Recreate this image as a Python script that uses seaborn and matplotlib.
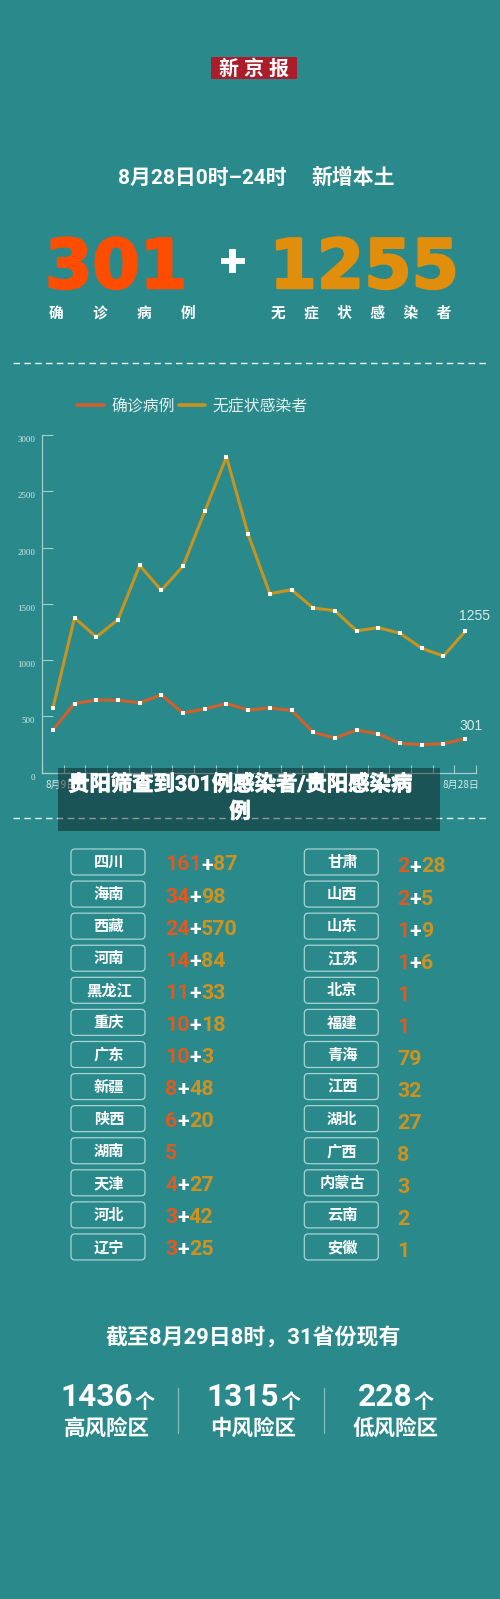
import numpy as np
import pandas as pd
import matplotlib
matplotlib.use("Agg")
import matplotlib.pyplot as plt
import matplotlib.patheffects as pe
from matplotlib.patches import Rectangle, FancyBboxPatch
from matplotlib.transforms import ScaledTranslation
import seaborn as sns

# ---------- data ----------
dates = [f"8月{d}日" for d in [9,10,11,12,13,14,15,16,17,18,19,20,21,22,23,24,25,26,27,28]]
confirmed = [379,614,646,643,622,691,531,566,614,557,575,554,359,308,379,344,261,249,258,301]
asymptomatic = [572,1376,1206,1359,1842,1620,1836,2321,2806,2117,1590,1625,1463,1439,1260,1289,1239,1105,1037,1255]
series_names = ["确诊病例", "无症状感染者"]
y_ticks = [0,500,1000,1500,2000,2500,3000]

left_prov = ["四川","海南","西藏","河南","黑龙江","重庆","广东","新疆","陕西","湖南","天津","河北","辽宁"]
left_conf = [161,34,24,14,11,10,10,8,6,5,4,3,3]
left_asym = [87,98,570,84,33,18,3,48,20,None,27,42,25]
right_prov = ["甘肃","山西","山东","江苏","北京","福建","青海","江西","湖北","广西","内蒙古","云南","安徽"]
right_conf = [2,2,1,1,1,1,None,None,None,None,None,None,None]
right_asym = [28,5,9,6,None,None,79,32,27,8,3,2,1]

risk_counts = ["1436","1315","228"]
risk_names = ["高风险区","中风险区","低风险区"]

# ---------- style ----------
BG = "#2a898b"
RED = "#d2602b"
GOLD = "#c8941f"
AXC = "#a3d0ce"
LT = "#d8ecea"
CJK = ["Roboto", "Noto Sans CJK SC", "DejaVu Sans"]
sns.set_theme(style="white")
plt.rcParams["font.family"] = ["Noto Sans CJK SC", "DejaVu Sans"]
plt.rcParams["axes.unicode_minus"] = False

fig = plt.figure(figsize=(5, 15.99), dpi=100, facecolor=BG)

# ---------- chart ----------
ax = fig.add_axes([42/500, (1599-772.7)/1599, 434/500, (772.7-435)/1599], zorder=1)
ax.patch.set_visible(False)
idx = np.arange(len(dates))
df = pd.DataFrame({
    "idx": np.r_[idx, idx],
    "value": confirmed + asymptomatic,
    "series": [series_names[0]]*len(dates) + [series_names[1]]*len(dates),
})
pal = {series_names[0]: RED, series_names[1]: GOLD}
sns.lineplot(data=df, x="idx", y="value", hue="series", palette=pal, hue_order=series_names,
             linewidth=2.2, ax=ax, errorbar=None, sort=False)
sns.scatterplot(data=df, x="idx", y="value", color="white", marker="s", s=5, linewidth=0,
                ax=ax, legend=False, zorder=5)
ax.set_xlim(-0.5, len(dates)-0.5)
ax.set_ylim(0, 3000)
ax.set_xlabel(""); ax.set_ylabel("")
sns.despine(ax=ax)
for s in ("left", "bottom"):
    ax.spines[s].set_color(AXC); ax.spines[s].set_linewidth(0.9)

ax.set_yticks(y_ticks)
ax.set_yticklabels([str(v) for v in y_ticks], family="Liberation Serif", fontsize=6.3, color=LT, va="top")
ax.tick_params(axis="y", direction="in", length=8, width=0.8, color=AXC, pad=5, left=True)
for l in ax.get_yticklabels():
    l.set_transform(l.get_transform() + ScaledTranslation(0, -1/100, fig.dpi_scale_trans))
ax.set_xticks([0, len(dates)-1])
ax.set_xticklabels([dates[0], dates[-1]], fontsize=7.2, color=LT)
ax.tick_params(axis="x", which="major", length=0, pad=5.5, bottom=True)
ax.set_xticks(np.arange(len(dates)+1)-0.5, minor=True)
ax.tick_params(axis="x", which="minor", direction="in", length=6, width=0.8, color=AXC, bottom=True)
xl = ax.get_xticklabels()
xl[0].set_transform(xl[0].get_transform() + ScaledTranslation(8/100, 0, fig.dpi_scale_trans))
xl[1].set_transform(xl[1].get_transform() + ScaledTranslation(-4/100, 0, fig.dpi_scale_trans))

ax.annotate(str(asymptomatic[-1]), xy=(idx[-1], asymptomatic[-1]), xytext=(7, 11), textcoords="offset points",
            ha="center", va="center", color=LT, fontsize=10, family="Liberation Sans", annotation_clip=False)
ax.annotate(str(confirmed[-1]), xy=(idx[-1], confirmed[-1]), xytext=(4.5, 9), textcoords="offset points",
            ha="center", va="center", color=LT, fontsize=10, family="Liberation Sans", annotation_clip=False)

# ---------- overlay in pixel coordinates ----------
ov = fig.add_axes([0, 0, 1, 1], zorder=2)
ov.set_xlim(0, 500); ov.set_ylim(1599, 0); ov.axis("off"); ov.patch.set_visible(False)

handles, labels = ax.get_legend_handles_labels()
for h in handles:
    h.set_linewidth(2.6)
leg = ax.legend(handles, labels, ncol=2, loc="center left", bbox_to_anchor=(77, 406), bbox_transform=ov.transData,
                frameon=False, fontsize=11.4, labelcolor="#e0f0ee", handlelength=1.7, handletextpad=0.45,
                columnspacing=0.25, borderpad=0, borderaxespad=0)
leg.get_texts()[0].set_y(-1.3)
leg.get_texts()[1].set_y(-0.7)

def T(x, y, s, size, color="white", weight="bold", ha="center", va="center", family=None, **kw):
    return ov.text(x, y, s, fontsize=size, color=color, fontweight=weight, ha=ha, va=va,
                   family=family or CJK, **kw)

# header
ov.add_patch(Rectangle((211, 57), 86, 21.5, fc="#ac1c2b", ec="none"))
T(254, 69, "新 京 报", 14.4)
T(202, 178, "8月28日0时–24时", 15)
T(353.5, 178, "新增本土", 15)

stroke = lambda c, w: [pe.withStroke(linewidth=w, foreground=c)]
T(116, 269, "301", 49, color="#ff4d00", family="DejaVu Sans", path_effects=stroke("#ff4d00", 1.8))
T(364, 269, "1255", 49, color="#e08e0b", family="DejaVu Sans", path_effects=stroke("#e08e0b", 1.8))
T(232, 264, "+", 33, family="Liberation Sans", path_effects=stroke("white", 0.6))
T(122, 313, ("\u3000" + " "*4).join(series_names[0]), 10.6)
T(361.5, 313, ("\u3000 ").join(series_names[1]), 10.6)

# separators
dash = (0, (4.7, 3.1))
for y in (363, 818):
    ov.plot([13, 489], [y, y], color="#e6f5f3", lw=1, ls=dash, dash_capstyle="butt", zorder=1)

# banner
ov.add_patch(Rectangle((58, 768), 382, 63, fc="black", alpha=0.38, ec="none", zorder=2))
T(240, 798, "贵阳筛查到301例感染者/贵阳感染病\n例", 15.4, zorder=3, linespacing=1.45,
  path_effects=stroke("white", 0.6))

# table
r = fig.canvas.get_renderer()
def values(x, y, conf, asym):
    parts = []
    if conf is not None:
        parts.append((str(conf), "#e0591f"))
    if conf is not None and asym is not None:
        parts.append(("+", "white"))
    if asym is not None:
        parts.append((str(asym), "#cf921e"))
    for s, c in parts:
        t = T(x, y, s, 15.4, color=c, ha="left", family=["Roboto", "DejaVu Sans"])
        x += t.get_window_extent(r).width

def column(x0, provs, confs, asyms, dy, dx):
    for i, (p, c, a) in enumerate(zip(provs, confs, asyms)):
        yc = 862 + i * 32.08
        ov.add_patch(FancyBboxPatch((x0 + 2, yc - 11), 70, 22, boxstyle="round,pad=2,rounding_size=4",
                                    fc="none", ec="#a8d4d2", lw=0.9))
        T(x0 + 38, yc + 1, p, 11)
        values(x0 + dx, yc + dy, c, a)

column(71, left_prov, left_conf, left_asym, 3, 94)
column(304.3, right_prov, right_conf, right_asym, 5, 93)

# bottom
T(253, 1338, "截至8月29日8时，31省份现有", 15.8)
starts = [60.7, 206.7, 358]
centres = [107, 253, 396]
for st, ce, n, nm in zip(starts, centres, risk_counts, risk_names):
    t = T(st, 1397, n, 22.8, ha="left")
    w = t.get_window_extent(r).width
    T(st + w + 1, 1402, "个", 14.4, ha="left")
    T(ce, 1429, nm, 15.5)
for x in (177.7, 324):
    ov.plot([x, x], [1388, 1432.7], color="#a8d4d2", lw=0.9, alpha=0.7)

fig.savefig("out.png", dpi=100, facecolor=BG)
